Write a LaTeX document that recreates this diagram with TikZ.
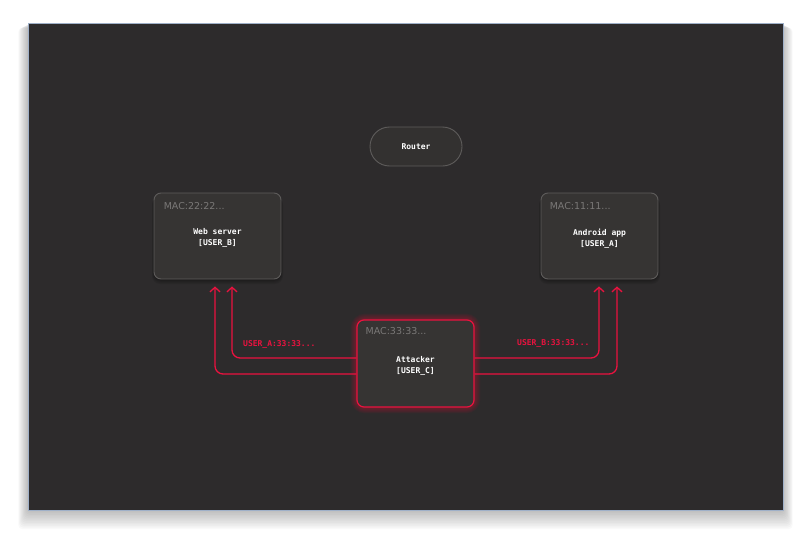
\documentclass[tikz,border=0pt]{standalone}
\usepackage{fontspec}
\setmonofont{DejaVu Sans Mono}
\setsansfont{DejaVu Sans}
\usetikzlibrary{arrows.meta,calc}

\definecolor{panelbg}{HTML}{2D2B2C}
\definecolor{panelrim}{HTML}{9FB0C8}
\definecolor{boxbg}{HTML}{363433}
\definecolor{boxrim}{HTML}{5E5C5B}
\definecolor{macgray}{HTML}{7A7877}
\definecolor{alertred}{HTML}{EA123F}

\tikzset{
  devbox/.style={draw=boxrim, fill=boxbg, line width=0.9pt, rounded corners=7pt,
    inner sep=0pt},
  evilbox/.style={devbox, draw=alertred, line width=1.2pt},
  devtext/.style={inner sep=0pt, text=white, align=center,
    font=\ttfamily\bfseries\fontsize{8}{11}\selectfont},
  maclabel/.style={anchor=west, inner sep=0pt, text=macgray,
    font=\sffamily\fontsize{9.5}{11}\selectfont},
  flow/.style={draw=alertred, line width=1.3pt, rounded corners=8pt,
    -{Straight Barb[length=4.5pt,width=10pt,line width=1.3pt]}},
  flowlabel/.style={anchor=west, inner sep=0pt, text=alertred,
    font=\ttfamily\bfseries\fontsize{8}{10}\selectfont}
}

\begin{document}
\begin{tikzpicture}[x=1pt,y=-1pt]
\useasboundingbox (0,0) rectangle (811,538);

% soft drop shadow under the dark panel
\foreach \i in {1,...,12}
  \fill[black, opacity=0.022, rounded corners=4pt]
    (28-\i*0.8, 23+\i*0.4) rectangle (783+\i*0.8, 510+\i*1.6);

% dark panel
\node[draw=panelrim, fill=panelbg, line width=0.8pt, inner sep=0pt,
      minimum width=755pt, minimum height=487pt, anchor=north west]
      (panel) at (28,23) {};

% shadows under the device boxes
\foreach \cx/\cy/\w/\h in {217.5/236/127/86, 599.5/236/117/86}
  \foreach \i in {1,...,5}
    \fill[black, opacity=0.07, rounded corners=8pt]
      (\cx-\w/2-\i*0.4, \cy-\h/2+\i*0.8) rectangle (\cx+\w/2+\i*0.4, \cy+\h/2+\i*1.0);

% red glow around the attacker
\foreach \i in {1,...,8}
  \draw[alertred, opacity=0.05, line width=\i*1.6pt, rounded corners=8pt]
    (415.5-58.5, 363.5-43.5) rectangle (415.5+58.5, 363.5+43.5);

% router
\node[devbox, devtext, rounded corners=19.5pt, minimum width=92pt, minimum height=39pt,
      fill=boxbg!95!black] (router) at (416,146.5) {Router};

% devices
\node[devbox, minimum width=127pt, minimum height=86pt] (web) at (217.5,236) {};
\node[devtext] (webtxt) at ($(web.center)+(0,2)$) {Web server\\{}[USER\_B]};
\node[maclabel] (webmac) at ($(web.north west)+(10,13)$) {MAC:22:22...};

\node[devbox, minimum width=117pt, minimum height=86pt] (android) at (599.5,236) {};
\node[devtext] (andtxt) at ($(android.center)+(0,3)$) {Android app\\{}[USER\_A]};
\node[maclabel] (andmac) at ($(android.north west)+(9,13)$) {MAC:11:11...};

\node[evilbox, minimum width=117pt, minimum height=87pt] (att) at (415.5,363.5) {};
\node[devtext] (atttxt) at ($(att.center)+(0,2.5)$) {Attacker\\{}[USER\_C]};
\node[maclabel] (attmac) at ($(att.north west)+(9,12)$) {MAC:33:33...};

% spoofed traffic towards the web server
\draw[flow] ($(att.west)+(0,10.5)$) -| ($(web.south)+(-2.5,7)$);
\draw[flow] ($(att.west)+(0,-5.5)$) -| ($(web.south)+(14.5,7)$);
\node[flowlabel] (lblA) at (243,344) {USER\_A:33:33...};

% spoofed traffic towards the android app
\draw[flow] ($(att.east)+(0,-5.5)$) -| ($(android.south)+(-0.5,7)$);
\draw[flow] ($(att.east)+(0,10.5)$) -| ($(android.south)+(17.5,7)$);
\node[flowlabel] (lblB) at (517,343) {USER\_B:33:33...};
\end{tikzpicture}
\end{document}
